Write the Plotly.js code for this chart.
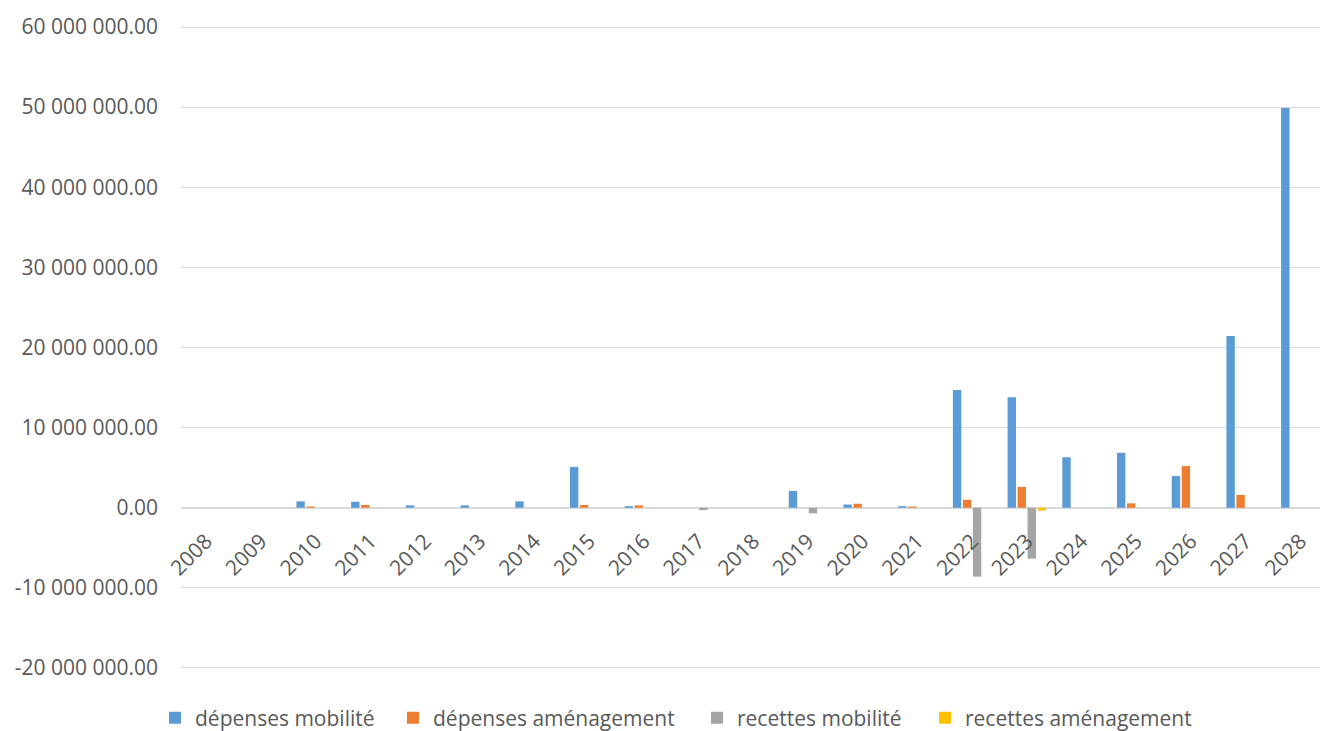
<!DOCTYPE html>
<html>
<head>
<meta charset="utf-8">
<script src="https://cdn.plot.ly/plotly-3.0.1.min.js"></script>
<style>html,body{margin:0;padding:0;background:#fff;}#chart{width:1320px;height:731px;}</style>
</head>
<body>
<div id="chart"></div>
<script>
const years = ["2008","2009","2010","2011","2012","2013","2014","2015","2016","2017","2018","2019","2020","2021","2022","2023","2024","2025","2026","2027","2028"];
const depensesMobilite = [0,0,800000,750000,300000,300000,800000,5100000,200000,0,0,2100000,400000,200000,14700000,13800000,6300000,6850000,3950000,21450000,49900000];
const depensesAmenagement = [0,0,150000,350000,0,0,0,350000,300000,0,0,0,500000,150000,1000000,2600000,0,550000,5200000,1600000,0];
const recettesMobilite = [0,0,0,0,0,0,0,0,0,-300000,0,-700000,0,0,-8600000,-6350000,0,0,0,0,0];
const recettesAmenagement = [0,0,0,0,0,0,0,0,0,0,0,0,0,0,0,-350000,0,0,0,0,0];
const seriesNames = ["dépenses mobilité","dépenses aménagement","recettes mobilité","recettes aménagement"];
const seriesColors = ["#5b9bd5","#ed7d31","#a5a5a5","#ffc000"];
const seriesValues = [depensesMobilite, depensesAmenagement, recettesMobilite, recettesAmenagement];
const yTickVals = [-20000000,-10000000,0,10000000,20000000,30000000,40000000,50000000,60000000];
const yTickText = ["-20 000 000.00","-10 000 000.00","0.00","10 000 000.00","20 000 000.00","30 000 000.00","40 000 000.00","50 000 000.00","60 000 000.00"];

const legendNames = ['legend','legend2','legend3','legend4'];
const legendLeftPx = [155, 393, 697, 925];
const plotLeft = 181, plotWidth = 1139, plotBottom = 672, plotHeight = 649;

const traces = seriesValues.map((v,i)=>({
  type:'bar', x: years, y: v, name: seriesNames[i],
  marker:{color: seriesColors[i]},
  legend: legendNames[i]
}));

const layout = {
  width:1320, height:731,
  margin:{l:181, r:0, t:23, b:59, autoexpand:false},
  paper_bgcolor:'#fff', plot_bgcolor:'#fff',
  font:{family:'Open Sans, sans-serif', size:21, color:'#595959'},
  barmode:'group', bargap:0.27, bargroupgap:0.16,
  showlegend:true,
  xaxis:{type:'category', range:[-0.46,20.36], anchor:'free', position:20.5/81, tickangle:-45,
    showgrid:false, showline:false, ticks:'', ticklabelstandoff:16,
    tickfont:{size:21, color:'#595959'}},
  yaxis:{range:[-20500000,60500000], tickvals:yTickVals, ticktext:yTickText,
    gridcolor:'#d9d9d9', gridwidth:1, zeroline:true, zerolinecolor:'#d9d9d9', zerolinewidth:2,
    ticks:'', ticklabelstandoff:22, tickfont:{size:21, color:'#595959'}}
};
legendNames.forEach((ln,i)=>{
  layout[ln] = {orientation:'h', x:(legendLeftPx[i]-plotLeft)/plotWidth, xanchor:'left',
    y:(plotBottom-718)/plotHeight, yanchor:'middle', bgcolor:'rgba(0,0,0,0)', borderwidth:0,
    font:{size:21, color:'#595959'}};
});
Plotly.newPlot('chart', traces, layout, {displayModeBar:false, staticPlot:true});
</script>
</body>
</html>
